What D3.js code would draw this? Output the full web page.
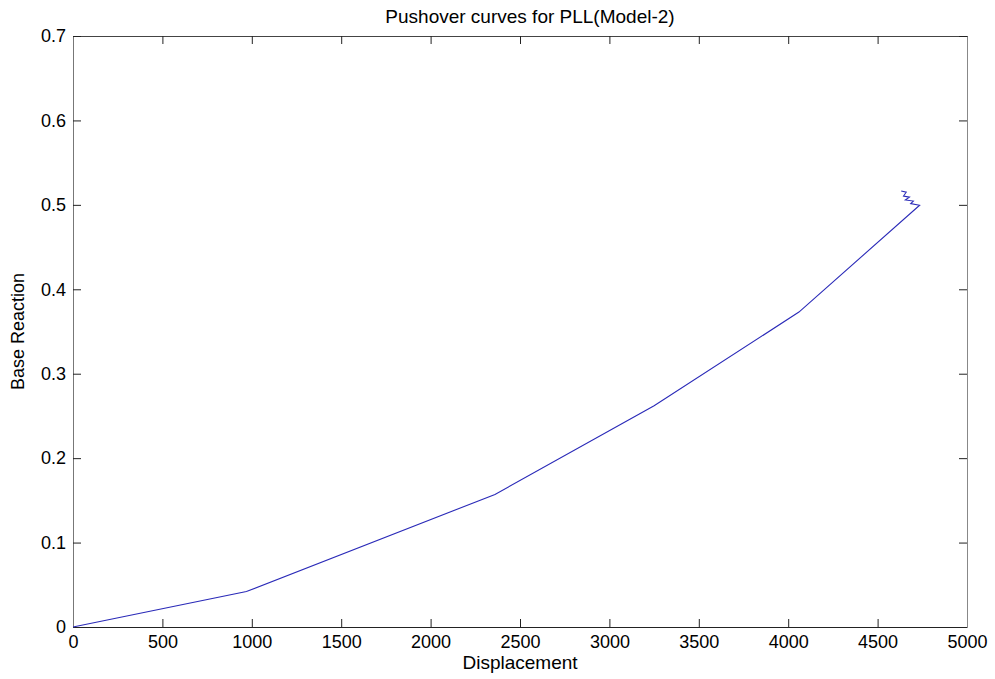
<!DOCTYPE html>
<html><head><meta charset="utf-8">
<script src="https://cdn.jsdelivr.net/npm/d3@7"></script>
<style>body{margin:0;background:#fff}svg{display:block}text{font-family:"Liberation Sans",Arial,sans-serif;fill:#000}</style>
</head><body><svg id="c" width="995" height="679"></svg>
<script>
const displacement = [0, 970, 2360, 3250, 4060, 4735, 4685, 4700, 4655, 4678, 4645, 4660, 4632];
const baseReaction = [0, 0.042, 0.157, 0.262, 0.373, 0.4995, 0.5015, 0.5045, 0.5058, 0.5092, 0.5105, 0.515, 0.5165];
const xTicks = [0, 500, 1000, 1500, 2000, 2500, 3000, 3500, 4000, 4500, 5000];
const yTicks = [0, 0.1, 0.2, 0.3, 0.4, 0.5, 0.6, 0.7];

const svg = d3.select("#c");
const L = 73, R = 967, T = 36, B = 627;
const x = d3.scaleLinear().domain([0, 5000]).range([L, R]);
const y = d3.scaleLinear().domain([0, 0.7]).range([B, T]);
const fmtY = d => d === 0 ? "0" : d3.format(".1f")(d);

const g = svg.append("g");
const tl = 8;
const styleText = a => a.selectAll("text").attr("font-size", 18).attr("font-family", "Liberation Sans, Arial, sans-serif").attr("fill", "#000");
// bottom axis
g.append("g").attr("transform", `translate(0,${B})`)
 .call(d3.axisBottom(x).tickValues(xTicks).tickSizeInner(-tl).tickSizeOuter(0).tickPadding(8).tickFormat(d3.format("d")))
 .call(a => { a.select(".domain").attr("stroke", "#222"); a.selectAll("line").attr("stroke", "#222"); styleText(a); });
// top axis
g.append("g").attr("transform", `translate(0,${T})`)
 .call(d3.axisTop(x).tickValues(xTicks).tickSizeInner(-tl).tickSizeOuter(0).tickFormat(""))
 .call(a => { a.select(".domain").attr("stroke", "#444"); a.selectAll("line").attr("stroke", "#222"); });
// left axis
g.append("g").attr("transform", `translate(${L},0)`)
 .call(d3.axisLeft(y).tickValues(yTicks).tickSizeInner(-tl).tickSizeOuter(0).tickPadding(7).tickFormat(fmtY))
 .call(a => { a.select(".domain").attr("stroke", "#777"); a.selectAll("line").attr("stroke", "#222"); styleText(a); });
// right axis
g.append("g").attr("transform", `translate(${R},0)`)
 .call(d3.axisRight(y).tickValues(yTicks).tickSizeInner(-tl).tickSizeOuter(0).tickFormat(""))
 .call(a => { a.select(".domain").attr("stroke", "#888"); a.selectAll("line").attr("stroke", "#222"); });

const pts = displacement.map((d, i) => [d, baseReaction[i]]);
svg.append("path").datum(pts)
 .attr("fill", "none").attr("stroke", "#2a2ab8").attr("stroke-width", 1.1)
 .attr("d", d3.line().x(d => x(d[0])).y(d => y(d[1])));

svg.append("text").attr("x", 530).attr("y", 23).attr("text-anchor", "middle").attr("font-size", 19).text("Pushover curves for PLL(Model-2)");
svg.append("text").attr("x", 520).attr("y", 669).attr("text-anchor", "middle").attr("font-size", 19).text("Displacement");
svg.append("text").attr("transform", `translate(24,${(T + B) / 2}) rotate(-90)`).attr("text-anchor", "middle").attr("font-size", 18).text("Base Reaction");
</script></body></html>
